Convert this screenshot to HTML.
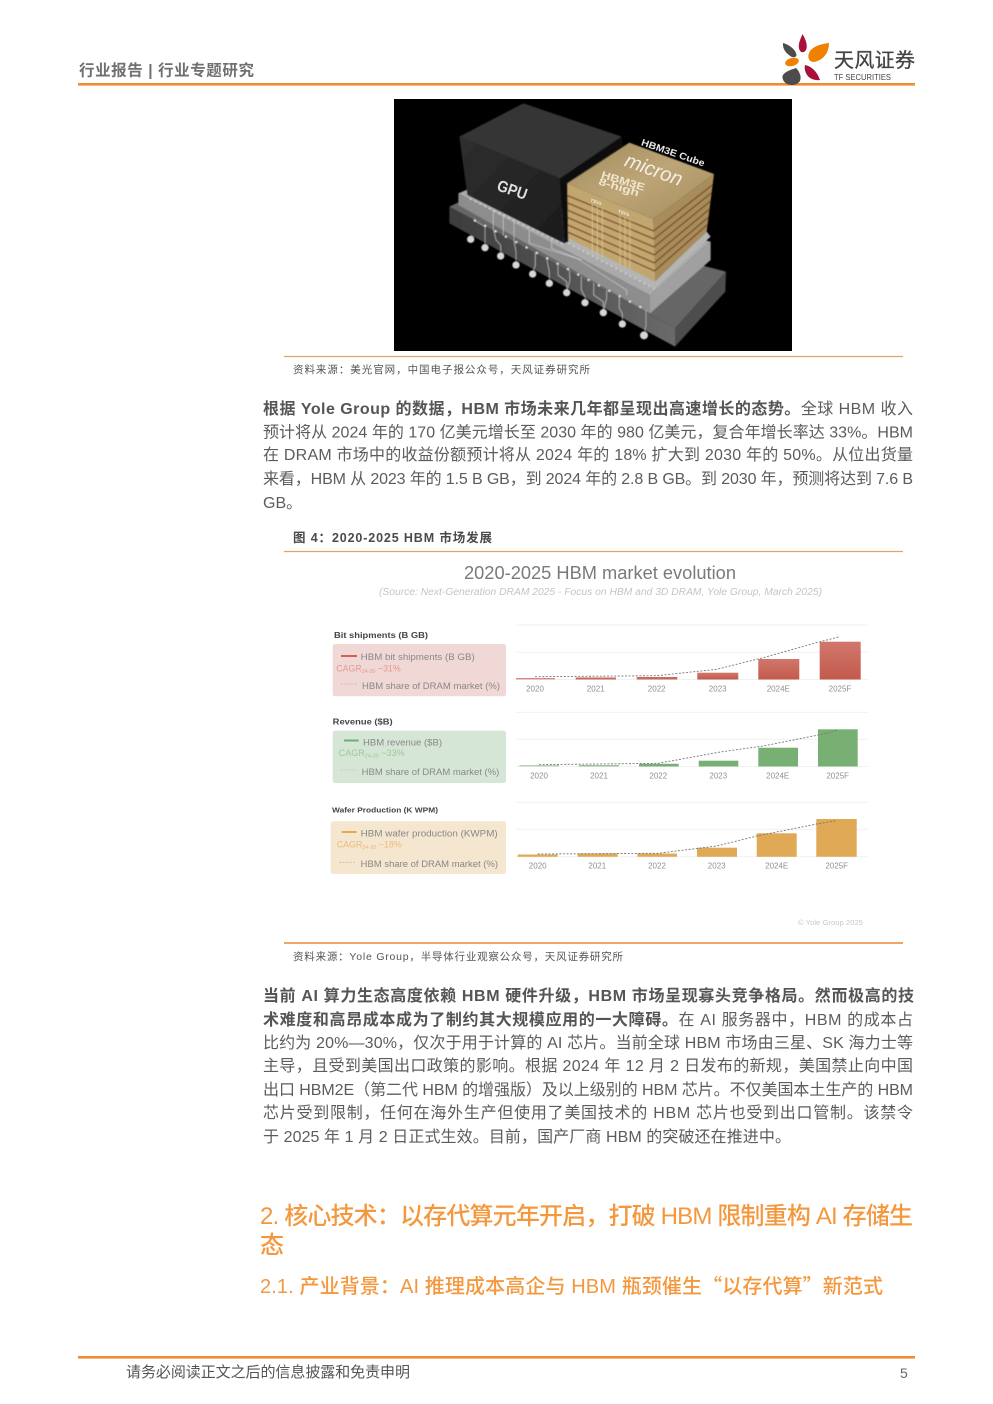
<!DOCTYPE html>
<html lang="zh">
<head>
<meta charset="utf-8">
<title>HBM 行业专题研究</title>
<style>
html,body{margin:0;padding:0;background:#fff;width:993px;height:1404px;overflow:hidden}
svg{display:block}
text{font-family:"Liberation Sans","Noto Sans CJK SC",sans-serif}
.b{font-size:16px;fill:#5c5c5c}
.s{font-weight:bold;fill:#555}
.c{font-size:10.5px;fill:#555}
.h{fill:#f4983e;font-weight:500}
.yr{font-size:8px;fill:#8f8f8f;text-anchor:middle}
.t{font-size:8.5px;font-weight:bold;fill:#444}
.l{font-size:9px;fill:#888}
.dash{fill:none;stroke:#777;stroke-width:.9;stroke-dasharray:2 1.6}
.grid{stroke:#f1f1f1;stroke-width:1}
</style>
</head>
<body>
<svg xmlns="http://www.w3.org/2000/svg" width="993" height="1404" viewBox="0 0 993 1404">
<defs>
<linearGradient id="red" x1="0" y1="0" x2="0" y2="1"><stop offset="0" stop-color="#d2776c"/><stop offset="1" stop-color="#c25a4c"/></linearGradient>
<linearGradient id="gold" x1="0" y1="0" x2="1" y2="1"><stop offset="0" stop-color="#a08a5c"/><stop offset=".5" stop-color="#bda576"/><stop offset="1" stop-color="#a48c5e"/></linearGradient>
<linearGradient id="slab" x1="0" y1="0" x2="1" y2="0"><stop offset="0" stop-color="#3c3c3c"/><stop offset="1" stop-color="#6a6a6a"/></linearGradient>
<linearGradient id="gpu" x1="0" y1="0" x2="1" y2="1"><stop offset="0" stop-color="#2f2f2f"/><stop offset="1" stop-color="#1c1c1c"/></linearGradient>
<filter id="soft"><feGaussianBlur stdDeviation="1.6"/></filter>
</defs>

<!-- header -->
<text x="79" y="75.5" font-size="15.5" font-weight="bold" fill="#707070" textLength="175" lengthAdjust="spacing">行业报告 | 行业专题研究</text>
<rect x="78" y="83" width="837" height="2.6" fill="#f08c2e"/>
<path d="M802.5 34C806 40 808 46 806 50C804 53 801 53 799.5 50C797.5 45 800 40 802.5 34Z" fill="#a8123a"/>
<path d="M783 43C790 45 796 50 796.5 55C796 58 792 58 789 55C785 52 782.5 48 783 43Z" fill="#4c4c4c"/>
<path d="M829 43C829 52 824 60 814 62C808 62 807 56 810 51C814 46 821 44 829 43Z" fill="#f08000"/>
<ellipse cx="792" cy="62" rx="7" ry="4" fill="#f08000" transform="rotate(-15 792 62)"/>
<path d="M805 65C811 66 817 71 820 80C814 81 808 78 806 73C804.5 70 804.5 67 805 65Z" fill="#a8123a"/>
<path d="M796 68C800 72 801.5 77 800 81C798 84 795 85 792 85C786 85 782 81 782.5 76C784 72 790 70 796 68Z" fill="#4c4c4c"/>
<text x="834" y="67" font-size="20" fill="#444" stroke="#444" stroke-width=".3" textLength="81" lengthAdjust="spacing">天风证券</text>
<text x="834" y="80" font-size="8" fill="#444" textLength="57" lengthAdjust="spacingAndGlyphs">TF SECURITIES</text>

<!-- product image -->
<rect x="394" y="99" width="398" height="252" fill="#000"/>
<svg x="394" y="99" width="398" height="252" viewBox="12 12 1194 756">
<g filter="url(#soft)">
<polygon points="178,335 205,322 1008,530 855,700" fill="#666"/>
<polygon points="178,335 855,700 855,755 178,385" fill="url(#slab)"/>
<polygon points="855,700 1008,530 1006,590 855,755" fill="#4e4e4e"/>
<polygon points="205,295 240,280 962,440 780,600" fill="#aaaaaa"/>
<polygon points="205,295 780,600 780,655 205,330" fill="#8d8d8d"/>
<polygon points="780,600 962,440 962,495 780,655" fill="#a0a0a0"/>
<polygon points="208,125 400,25 695,125 510,250" fill="#343434"/>
<polygon points="208,125 510,250 522,445 232,300" fill="url(#gpu)"/>
<polygon points="510,250 695,125 700,150 532,265 535,440 522,445" fill="#0c0c0c"/>
<polygon points="535,430 795,560 950,410 962,425 795,580 535,445" fill="#b5b5b5"/>
<polygon points="532,265 790,372 795,560 535,430" fill="#c2a66f"/>
<polygon points="790,372 972,237 950,410 795,560" fill="#a88d5c"/>
<polygon points="718,143 972,237 790,372 532,265" fill="url(#gold)"/>
<g fill="none" stroke="#7c4a22" stroke-width="4">
<polyline points="533,302 791,408 967,270"/>
<polyline points="533,324 792,432 964,294"/>
<polyline points="534,346 792,456 962,318"/>
<polyline points="534,368 793,480 959,342"/>
<polyline points="534,390 793,504 956,366"/>
<polyline points="535,412 794,528 953,388"/>
</g>
<g fill="none" stroke="#e0c996" stroke-width="2">
<line x1="607" y1="325" x2="607" y2="475"/><line x1="622" y1="332" x2="622" y2="482"/><line x1="637" y1="338" x2="637" y2="488"/>
<line x1="690" y1="360" x2="690" y2="510"/><line x1="705" y1="366" x2="705" y2="516"/><line x1="720" y1="372" x2="720" y2="522"/>
</g>
<g fill="none" stroke="#d8d8d8" stroke-width="1.6">
<line x1="310" y1="345" x2="310" y2="405"/><line x1="340" y1="360" x2="340" y2="422"/><line x1="372" y1="378" x2="372" y2="438"/>
<polyline points="418,405 418,445 560,490 710,585 710,600"/>
<polyline points="485,435 485,460 575,495"/>
<polyline points="252,375 285,395 285,455"/>
<polyline points="311,405 318,435 332,450 332,480"/>
<polyline points="372,438 378,470 378,508"/>
<polyline points="436,472 436,510 428,535"/>
<polyline points="470,490 478,530 478,563"/>
<polyline points="504,508 504,540 530,560 530,590 540,555 538,525"/>
<polyline points="574,545 574,585 585,605 585,620"/>
<polyline points="611,565 611,600 640,620 640,650 650,610 650,585"/>
<polyline points="688,605 688,640 697,655 697,685"/>
<polyline points="768,645 768,690 762,720"/>
</g>
<polyline points="240,312 525,450" fill="none" stroke="#e5e5e5" stroke-width="4" stroke-dasharray="4 12"/>
<polyline points="535,445 795,582" fill="none" stroke="#e0e0e0" stroke-width="4" stroke-dasharray="4 12"/>
<polyline points="252,375 768,645" fill="none" stroke="#e8e8e8" stroke-width="6" stroke-dasharray="6 29"/>
<g fill="#d6d6d6">
<circle cx="242" cy="433" r="11"/><circle cx="285" cy="458" r="11"/><circle cx="332" cy="483" r="11"/><circle cx="378" cy="510" r="11"/><circle cx="428" cy="537" r="11"/><circle cx="478" cy="565" r="11"/><circle cx="530" cy="593" r="11"/><circle cx="585" cy="623" r="11"/><circle cx="640" cy="653" r="11"/><circle cx="697" cy="687" r="11"/><circle cx="762" cy="721" r="12"/>
</g>
</g>
<text x="0" y="0" font-size="48" font-weight="bold" fill="#dedede" transform="translate(318,285) rotate(19)" textLength="92" lengthAdjust="spacingAndGlyphs">GPU</text>
<text x="0" y="0" font-size="29" font-weight="bold" fill="#e8e8e8" transform="translate(752,150) rotate(19)" textLength="199" lengthAdjust="spacingAndGlyphs">HBM3E Cube</text>
<text x="0" y="0" font-size="60" font-style="italic" fill="#f2efe6" transform="translate(700,212) rotate(20)" textLength="180" lengthAdjust="spacingAndGlyphs">micron</text>
<text x="0" y="0" font-size="31" font-weight="bold" fill="#efe6cf" transform="translate(632,248) rotate(17)" textLength="135" lengthAdjust="spacingAndGlyphs">HBM3E</text>
<text x="0" y="0" font-size="31" font-weight="bold" fill="#efe6cf" transform="translate(624,268) rotate(17)" textLength="125" lengthAdjust="spacingAndGlyphs">8-high</text>
<text x="0" y="0" font-size="14" font-weight="bold" fill="#f3eee0" transform="translate(600,320) rotate(18)">TSVs</text>
<text x="0" y="0" font-size="14" font-weight="bold" fill="#f3eee0" transform="translate(683,353) rotate(18)">TSVs</text>
</svg>

<line x1="284" y1="356.5" x2="903" y2="356.5" stroke="#e0a468" stroke-width="1.2"/>
<text class="c" x="293" y="373" textLength="297" lengthAdjust="spacing">资料来源：美光官网，中国电子报公众号，天风证券研究所</text>

<!-- paragraph 1 -->
<text class="b" x="263" y="414" textLength="650" lengthAdjust="spacing"><tspan class="s">根据 Yole Group 的数据，HBM 市场未来几年都呈现出高速增长的态势。</tspan>全球 HBM 收入</text>
<text class="b" x="263" y="437.5" textLength="650" lengthAdjust="spacing">预计将从 2024 年的 170 亿美元增长至 2030 年的 980 亿美元，复合年增长率达 33%。HBM</text>
<text class="b" x="263" y="460" textLength="650" lengthAdjust="spacing">在 DRAM 市场中的收益份额预计将从  2024  年的  18%  扩大到 2030 年的 50%。从位出货量</text>
<text class="b" x="263" y="484" textLength="650" lengthAdjust="spacing">来看，HBM 从 2023 年的 1.5 B GB，到 2024 年的 2.8 B GB。到 2030 年，预测将达到 7.6 B</text>
<text class="b" x="263" y="508">GB。</text>

<!-- figure 4 -->
<text x="293" y="542" font-size="12.5" font-weight="bold" fill="#4a4a4a" textLength="199" lengthAdjust="spacing">图 4：2020-2025 HBM 市场发展</text>
<line x1="284" y1="551.5" x2="903" y2="551.5" stroke="#e0a468" stroke-width="1.2"/>

<text x="464" y="579" font-size="18" fill="#7a7a7a" textLength="272" lengthAdjust="spacingAndGlyphs">2020-2025 HBM market evolution</text>
<text x="379" y="595" font-size="10" font-style="italic" fill="#c4c4c4" textLength="443" lengthAdjust="spacingAndGlyphs">(Source: Next-Generation DRAM 2025 - Focus on HBM and 3D DRAM, Yole Group, March 2025)</text>

<g class="grid">
<line x1="516" y1="625" x2="868" y2="625"/><line x1="516" y1="652.3" x2="868" y2="652.3"/><line x1="516" y1="679.5" x2="868" y2="679.5"/>
<line x1="516" y1="712.3" x2="868" y2="712.3"/><line x1="516" y1="739.3" x2="868" y2="739.3"/><line x1="516" y1="766.5" x2="868" y2="766.5"/>
<line x1="516" y1="802.3" x2="868" y2="802.3"/><line x1="516" y1="829.3" x2="868" y2="829.3"/><line x1="516" y1="856.8" x2="868" y2="856.8"/>
</g>

<!-- panel 1 -->
<text class="t" x="334" y="638" textLength="94" lengthAdjust="spacingAndGlyphs">Bit shipments (B GB)</text>
<rect x="332.7" y="644" width="173.3" height="52.3" rx="2.5" fill="#f0d8d6"/>
<rect x="341" y="655" width="16" height="2" fill="#d9604f"/>
<text class="l" x="360.7" y="660" textLength="114" lengthAdjust="spacingAndGlyphs">HBM bit shipments (B GB)</text>
<text class="l" x="336.3" y="671.7" style="fill:#e59a90" textLength="64.4" lengthAdjust="spacingAndGlyphs">CAGR<tspan font-size="5.5" dy="1.5">24-30</tspan><tspan dy="-1.5"> ~31%</tspan></text>
<line x1="340.7" y1="684" x2="356.7" y2="684" stroke="#c8b0ae" stroke-width=".8" stroke-dasharray="2 1.5"/>
<text class="l" x="362" y="689" textLength="138" lengthAdjust="spacingAndGlyphs">HBM share of DRAM market (%)</text>

<!-- panel 2 -->
<text class="t" x="332.7" y="724.7" textLength="60" lengthAdjust="spacingAndGlyphs">Revenue ($B)</text>
<rect x="332.7" y="730.7" width="173.3" height="52.3" rx="2.5" fill="#d6e6d6"/>
<rect x="344" y="739.5" width="14.7" height="2" fill="#6fae70"/>
<text class="l" x="363" y="745.3" textLength="79" lengthAdjust="spacingAndGlyphs">HBM revenue ($B)</text>
<text class="l" x="338.7" y="756" style="fill:#9cc99a" textLength="66" lengthAdjust="spacingAndGlyphs">CAGR<tspan font-size="5.5" dy="1.5">24-30</tspan><tspan dy="-1.5"> ~33%</tspan></text>
<line x1="340.7" y1="770" x2="356.7" y2="770" stroke="#b4c8b4" stroke-width=".8" stroke-dasharray="2 1.5"/>
<text class="l" x="361.7" y="775" textLength="137.6" lengthAdjust="spacingAndGlyphs">HBM share of DRAM market (%)</text>

<!-- panel 3 -->
<text class="t" x="332" y="812.7" style="font-size:7.5px" textLength="106" lengthAdjust="spacingAndGlyphs">Wafer Production (K WPM)</text>
<rect x="330.7" y="821.3" width="175.3" height="52.7" rx="2.5" fill="#f4e6cf"/>
<rect x="341.7" y="831" width="15" height="2" fill="#e6a94e"/>
<text class="l" x="360.7" y="836.7" textLength="137" lengthAdjust="spacingAndGlyphs">HBM wafer production (KWPM)</text>
<text class="l" x="336.7" y="847.3" style="fill:#eebb77" textLength="65" lengthAdjust="spacingAndGlyphs">CAGR<tspan font-size="5.5" dy="1.5">24-30</tspan><tspan dy="-1.5"> ~18%</tspan></text>
<line x1="339.3" y1="862.3" x2="355" y2="862.3" stroke="#c8bca4" stroke-width=".8" stroke-dasharray="2 1.5"/>
<text class="l" x="360.7" y="867" textLength="137.3" lengthAdjust="spacingAndGlyphs">HBM share of DRAM market (%)</text>

<!-- bars row 1 -->
<g fill="url(#red)">
<rect x="516" y="678" width="39" height="1.4" fill="#d88a80"/>
<rect x="575.7" y="677.5" width="40.3" height="2" fill="#c96a5c"/>
<rect x="636.7" y="677" width="40.6" height="2.5" fill="#c96a5c"/>
<rect x="697.3" y="672.7" width="41" height="6.8"/>
<rect x="758.3" y="659" width="41" height="20.5"/>
<rect x="819.7" y="641.7" width="41" height="37.8"/>
</g>
<polyline class="dash" points="535,676.7 656.7,675.7 716.7,669.3 763.3,657.7 820,641.7 840,636.7"/>
<g class="yr"><text x="535" y="691.5">2020</text><text x="595.7" y="691.5">2021</text><text x="656.7" y="691.5">2022</text><text x="717.7" y="691.5">2023</text><text x="778.3" y="691.5">2024E</text><text x="840" y="691.5">2025F</text></g>

<!-- bars row 2 -->
<g fill="#78b074">
<rect x="519.3" y="765" width="39.7" height="1.5" fill="#b8d4b4"/>
<rect x="579" y="765" width="40" height="1.5" fill="#9cc498"/>
<rect x="639" y="763.8" width="39.7" height="2.7"/>
<rect x="698.7" y="760.7" width="39.6" height="5.8"/>
<rect x="758.3" y="747.7" width="39.7" height="18.8"/>
<rect x="818" y="729.3" width="39.7" height="37.2"/>
</g>
<polyline class="dash" points="539,764.7 658.3,763.3 718.3,752.3 763.3,746 818.3,735 838.3,730"/>
<g class="yr"><text x="539" y="778.5">2020</text><text x="599" y="778.5">2021</text><text x="658.3" y="778.5">2022</text><text x="718.3" y="778.5">2023</text><text x="777.7" y="778.5">2024E</text><text x="837.7" y="778.5">2025F</text></g>

<!-- bars row 3 -->
<g fill="#e0a956">
<rect x="517.7" y="854.5" width="40" height="2.3"/>
<rect x="577.7" y="853.5" width="40" height="3.3"/>
<rect x="637.3" y="853.5" width="39.7" height="3.3"/>
<rect x="697" y="847.7" width="40" height="9.1"/>
<rect x="756.7" y="833.3" width="40" height="23.5"/>
<rect x="816.3" y="819" width="40.4" height="37.8"/>
</g>
<polyline class="dash" points="537.7,854 658.3,853.3 716.7,846 756.7,836 816.7,824 836.7,820.7"/>
<g class="yr"><text x="537.7" y="868.5">2020</text><text x="597.3" y="868.5">2021</text><text x="657" y="868.5">2022</text><text x="716.7" y="868.5">2023</text><text x="776.7" y="868.5">2024E</text><text x="836.7" y="868.5">2025F</text></g>

<text x="798" y="925" font-size="7" fill="#c8c8c8" textLength="65" lengthAdjust="spacingAndGlyphs">© Yole Group 2025</text>

<line x1="284" y1="943" x2="903" y2="943" stroke="#e99a50" stroke-width="1.8"/>
<text class="c" x="293" y="960" textLength="330" lengthAdjust="spacing">资料来源：Yole Group，半导体行业观察公众号，天风证券研究所</text>

<!-- paragraph 2 -->
<text class="b s" x="263" y="1001" textLength="651" lengthAdjust="spacing">当前 AI 算力生态高度依赖 HBM 硬件升级，HBM 市场呈现寡头竞争格局。然而极高的技</text>
<text class="b" x="263" y="1025" textLength="650" lengthAdjust="spacing"><tspan class="s">术难度和高昂成本成为了制约其大规模应用的一大障碍。</tspan>在 AI 服务器中，HBM 的成本占</text>
<text class="b" x="263" y="1048" textLength="650" lengthAdjust="spacing">比约为 20%—30%，仅次于用于计算的 AI 芯片。当前全球 HBM 市场由三星、SK 海力士等</text>
<text class="b" x="263" y="1071" textLength="650" lengthAdjust="spacing">主导，且受到美国出口政策的影响。根据 2024 年 12 月 2 日发布的新规，美国禁止向中国</text>
<text class="b" x="263" y="1095" textLength="650" lengthAdjust="spacing">出口 HBM2E（第二代 HBM 的增强版）及以上级别的 HBM 芯片。不仅美国本土生产的 HBM</text>
<text class="b" x="263" y="1118" textLength="650" lengthAdjust="spacing">芯片受到限制，任何在海外生产但使用了美国技术的  HBM  芯片也受到出口管制。该禁令</text>
<text class="b" x="263" y="1142" textLength="528" lengthAdjust="spacing">于 2025 年 1 月 2 日正式生效。目前，国产厂商 HBM 的突破还在推进中。</text>

<!-- headings -->
<text class="h" x="260" y="1224" font-size="24" textLength="653" lengthAdjust="spacing">2. 核心技术：以存代算元年开启，打破 HBM 限制重构 AI 存储生</text>
<text class="h" x="260" y="1253" font-size="24">态</text>
<text class="h" x="260" y="1293" font-size="20" textLength="623" lengthAdjust="spacing">2.1. 产业背景：AI 推理成本高企与 HBM 瓶颈催生<tspan style="font-family:'Noto Sans CJK SC',sans-serif">“</tspan>以存代算<tspan style="font-family:'Noto Sans CJK SC',sans-serif">”</tspan>新范式</text>

<!-- footer -->
<rect x="78" y="1356" width="837" height="2.6" fill="#f08c2e"/>
<text x="126" y="1377" font-size="15" fill="#555" textLength="284" lengthAdjust="spacing">请务必阅读正文之后的信息披露和免责申明</text>
<text x="900" y="1378" font-size="14" fill="#666">5</text>
</svg>
</body>
</html>
